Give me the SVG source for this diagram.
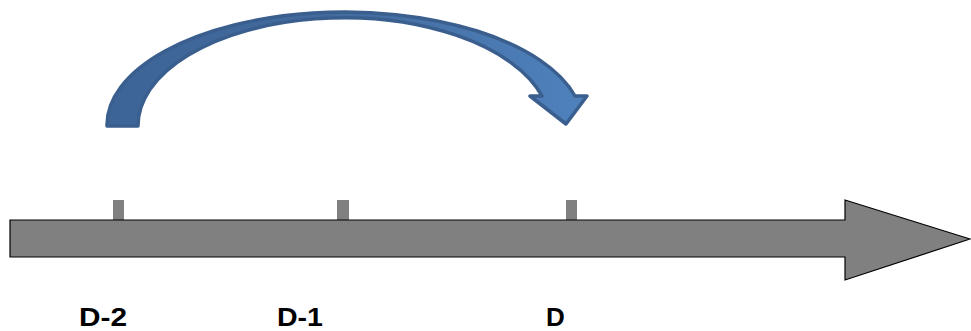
<svg xmlns="http://www.w3.org/2000/svg" width="971" height="331" viewBox="0 0 971 331">
<style>
.tick{fill:#808080}
.lbl{font-family:"Liberation Sans",Arial,sans-serif;font-weight:bold;font-size:26px;fill:#000}
</style>
<defs>
<linearGradient id="g" x1="107" y1="0" x2="590" y2="0" gradientUnits="userSpaceOnUse">
<stop offset="0" stop-color="#3d6496"/>
<stop offset="0.5" stop-color="#436c9f"/>
<stop offset="1" stop-color="#4f82be"/>
</linearGradient>
</defs>
<rect width="971" height="331" fill="#fff"/>
<g id="ticks">
<rect class="tick" x="113" y="200" width="11" height="21"/>
<rect class="tick" x="337" y="200" width="12" height="21"/>
<rect class="tick" x="566" y="200" width="11" height="21"/>
</g>
<g id="timeline">
<path d="M10,220 H845 V200 L970,239 L845,280 V257 H10 Z" fill="#808080" stroke="#000" stroke-width="1.2"/>
</g>
<g id="curved-arrow">
<path d="M107,126 A238,113 0 0 1 575,96 L587,96 L566,124 L530,96 L542,96 A206,108 0 0 0 138,126 Z" fill="url(#g)" stroke="#3a5f8e" stroke-width="3.5" stroke-linejoin="round"/>
</g>
<g id="labels">
<text class="lbl" x="79" y="326" textLength="48" lengthAdjust="spacingAndGlyphs">D-2</text>
<text class="lbl" x="277" y="326" textLength="46" lengthAdjust="spacingAndGlyphs">D-1</text>
<text class="lbl" x="546" y="326">D</text>
</g>
</svg>
